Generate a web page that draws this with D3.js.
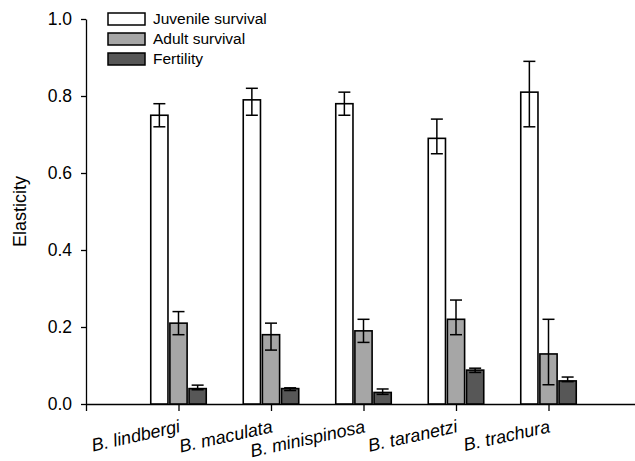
<!DOCTYPE html>
<html>
<head>
<meta charset="utf-8">
<script src="https://cdn.jsdelivr.net/npm/d3@7"></script>
<style>
  html, body { margin: 0; padding: 0; background: #fff; }
  svg { display: block; font-family: "Liberation Sans", Arial, sans-serif; }
</style>
</head>
<body>
<svg id="chart" width="635" height="461"></svg>
<script>
// ---- data ----
const categories = ["B. lindbergi", "B. maculata", "B. minispinosa", "B. taranetzi", "B. trachura"];
const seriesNames = ["Juvenile survival", "Adult survival", "Fertility"];
const juvenile = [0.75, 0.79, 0.78, 0.69, 0.81];
const juvenileLow = [0.72, 0.75, 0.75, 0.65, 0.72];
const juvenileHigh = [0.78, 0.82, 0.81, 0.74, 0.89];
const adult = [0.21, 0.18, 0.19, 0.22, 0.13];
const adultLow = [0.18, 0.14, 0.16, 0.18, 0.05];
const adultHigh = [0.24, 0.21, 0.22, 0.27, 0.22];
const fertility = [0.04, 0.04, 0.03, 0.088, 0.06];
const fertilityLow = [0.037, 0.035, 0.025, 0.082, 0.058];
const fertilityHigh = [0.049, 0.042, 0.039, 0.093, 0.07];
const yTicks = [0, 0.2, 0.4, 0.6, 0.8, 1.0];
const colors = ["#ffffff", "#a6a6a6", "#575757"];

const series = [
  { name: seriesNames[0], values: juvenile, low: juvenileLow, high: juvenileHigh },
  { name: seriesNames[1], values: adult, low: adultLow, high: adultHigh },
  { name: seriesNames[2], values: fertility, low: fertilityLow, high: fertilityHigh }
];

// ---- layout ----
const svg = d3.select("#chart");
const margin = { left: 86, top: 19 };
const plotH = 385;
const plotW = 555;

const g = svg.append("g").attr("transform", `translate(${margin.left},${margin.top})`);

const y = d3.scaleLinear().domain([0, 1]).range([plotH, 0]);
const xDomain = ["", ...categories, " "];
const x = d3.scalePoint().domain(xDomain).range([0, plotW]);
const step = x.step();
const groupW = step * 0.6;
const xs = d3.scaleBand().domain(seriesNames).range([-groupW / 2, groupW / 2]).paddingInner(0.1);

// ---- axes ----
const yAxis = g.append("g")
  .call(d3.axisLeft(y).tickValues(yTicks).tickFormat(d3.format(".1f")).tickSize(5).tickSizeOuter(0).tickPadding(9));
yAxis.selectAll("text").attr("font-size", 17.5).attr("fill", "#000").attr("font-family", "'Liberation Sans', Arial, sans-serif");
yAxis.selectAll("line, path").attr("stroke", "#000").attr("stroke-width", 1.3);

const xAxis = g.append("g").attr("transform", `translate(0,${plotH})`)
  .call(d3.axisBottom(x).tickValues(["", ...categories]).tickSize(7).tickSizeOuter(0).tickFormat(d => d));
xAxis.selectAll("line, path").attr("stroke", "#000").attr("stroke-width", 1.3);
xAxis.selectAll("text")
  .attr("font-size", 18)
  .attr("font-style", "italic")
  .attr("fill", "#000")
  .attr("font-family", "'Liberation Sans', Arial, sans-serif")
  .attr("text-anchor", "end")
  .attr("y", 0).attr("dy", 0)
  .attr("transform", "translate(2,28) rotate(-12.5)");

// y label
g.append("text")
  .attr("transform", `translate(-60,${plotH / 2}) rotate(-90)`)
  .attr("text-anchor", "middle")
  .attr("font-size", 18)
  .attr("fill", "#000")
  .text("Elasticity");

// ---- bars ----
series.forEach((s, si) => {
  const sg = g.append("g");
  sg.selectAll("rect").data(categories).join("rect")
    .attr("x", (d) => x(d) + xs(s.name))
    .attr("width", xs.bandwidth())
    .attr("y", (d, i) => y(s.values[i]))
    .attr("height", (d, i) => y(0) - y(s.values[i]))
    .attr("fill", colors[si])
    .attr("stroke", "#000")
    .attr("stroke-width", 1.6);
  const cx = d => x(d) + xs(s.name) + xs.bandwidth() / 2;
  const cap = 6;
  sg.selectAll("line.err").data(categories).join("line").attr("class", "err")
    .attr("x1", cx).attr("x2", cx)
    .attr("y1", (d, i) => y(s.low[i])).attr("y2", (d, i) => y(s.high[i]))
    .attr("stroke", "#000").attr("stroke-width", 1.5);
  sg.selectAll("line.capHi").data(categories).join("line").attr("class", "capHi")
    .attr("x1", d => cx(d) - cap).attr("x2", d => cx(d) + cap)
    .attr("y1", (d, i) => y(s.high[i])).attr("y2", (d, i) => y(s.high[i]))
    .attr("stroke", "#000").attr("stroke-width", 1.5);
  sg.selectAll("line.capLo").data(categories).join("line").attr("class", "capLo")
    .attr("x1", d => cx(d) - cap).attr("x2", d => cx(d) + cap)
    .attr("y1", (d, i) => y(s.low[i])).attr("y2", (d, i) => y(s.low[i]))
    .attr("stroke", "#000").attr("stroke-width", 1.5);
});

// ---- legend ----
const legend = g.append("g").attr("transform", "translate(22,-6)");
seriesNames.forEach((name, i) => {
  const row = legend.append("g").attr("transform", `translate(0,${i * 20})`);
  row.append("rect").attr("x", 0).attr("y", 0).attr("width", 37).attr("height", 12)
    .attr("fill", colors[i]).attr("stroke", "#000").attr("stroke-width", 1.5);
  row.append("text").attr("x", 45).attr("y", 6).attr("dy", "0.35em")
    .attr("font-size", 15.5).attr("fill", "#000").text(name);
});
</script>
</body>
</html>
